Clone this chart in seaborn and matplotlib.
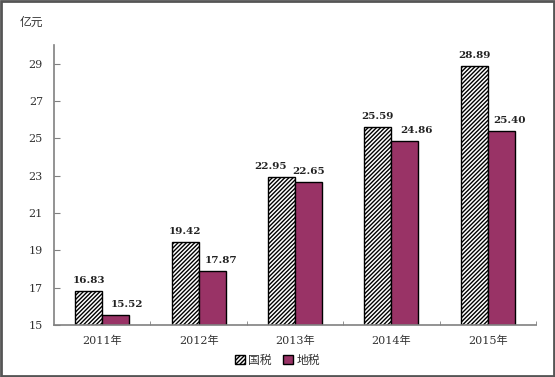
import pandas as pd
import matplotlib.pyplot as plt
import seaborn as sns
from matplotlib.patches import Rectangle, Patch

# Data
years = ['2011年', '2012年', '2013年', '2014年', '2015年']
guoshui = [16.83, 19.42, 22.95, 25.59, 28.89]
dishui = [15.52, 17.87, 22.65, 24.86, 25.40]
series = ['国税', '地税']

# horizontal nudges (pixels) of the value labels, as in the original
label_dx = [[0, 0, -11, 0, 0], [11, 9, 0, 12, 8]]

df = pd.DataFrame({
    'year': years * 2,
    'value': guoshui + dishui,
    'type': [series[0]] * len(years) + [series[1]] * len(years),
})

sns.set_style('white')
plt.rcParams['font.family'] = ['Noto Sans CJK SC', 'DejaVu Sans']
plt.rcParams['hatch.linewidth'] = 1.0
serif = ['DejaVu Serif', 'Noto Sans CJK SC']

maroon = '#993366'
hatch = '////////'
fig = plt.figure(figsize=(5.55, 3.77), dpi=100)
ax = fig.add_axes([0.0973, 0.138, 0.8685, 0.7426])

sns.barplot(data=df, x='year', y='value', hue='type', palette=['white', maroon],
            saturation=1, edgecolor='black', linewidth=1.0, width=0.56, ax=ax,
            legend=False)

for bar in ax.containers[0]:
    bar.set_hatch(hatch)

for cont, dxs in zip(ax.containers, label_dx):
    for bar, dx in zip(cont, dxs):
        h = bar.get_height()
        ax.annotate(f'{h:.2f}', xy=(bar.get_x() + bar.get_width() / 2, h),
                    xytext=(dx, 6), textcoords='offset pixels', ha='center',
                    va='bottom', fontsize=7.5, family=serif, color='#222222',
                    fontweight='bold')

ax.set_ylim(15, 30)
ax.set_xlim(-0.5, 4.5)
ax.set_yticks(range(15, 30, 2))
ax.set_xlabel('')
ax.set_ylabel('')
for lab in ax.get_yticklabels() + ax.get_xticklabels():
    lab.set_fontfamily(serif)
    lab.set_color('#333333')
ax.tick_params(axis='y', direction='in', length=4, color='#808080', labelsize=8, pad=8,
               left=True)
ax.tick_params(axis='x', length=0, labelsize=8, pad=8)
ax.set_xticks([i + 0.5 for i in range(5)], minor=True)
ax.tick_params(axis='x', which='minor', direction='in', length=3, color='#808080', bottom=True)

for s in ['top', 'right']:
    ax.spines[s].set_visible(False)
for s in ['left', 'bottom']:
    ax.spines[s].set_color('#808080')
    ax.spines[s].set_linewidth(1.2)

fig.text(0.036, 0.94, '亿元', fontsize=8.5, ha='left', va='center', color='#333333')

handles = [Patch(facecolor='white', edgecolor='black', hatch=hatch),
           Patch(facecolor=maroon, edgecolor='black')]
fig.legend(handles, series, loc='center', bbox_to_anchor=(0.5, 0.045), ncol=2,
           frameon=False, fontsize=8.5, handlelength=0.8, handleheight=0.8,
           handletextpad=0.3, columnspacing=1.0, labelcolor='#333333')

fig.patches.append(Rectangle((0.002, 0.003), 0.996, 0.994, transform=fig.transFigure,
                             fill=False, edgecolor='#555555', linewidth=2))

fig.savefig('out.png', dpi=100)
